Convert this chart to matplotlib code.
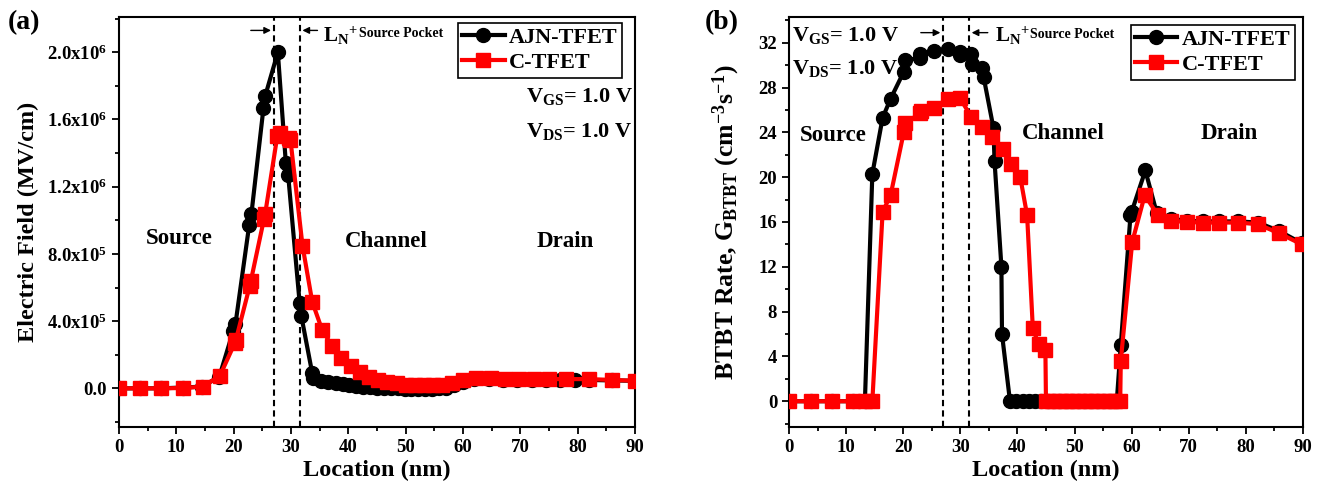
import matplotlib
matplotlib.use("Agg")
import matplotlib.pyplot as plt
from matplotlib.ticker import MultipleLocator, FuncFormatter

plt.rcParams['font.family'] = ['Liberation Serif', 'DejaVu Serif']
plt.rcParams['font.weight'] = 'bold'
plt.rcParams['axes.labelweight'] = 'bold'
plt.rcParams['mathtext.fontset'] = 'custom'
plt.rcParams['mathtext.rm'] = 'Liberation Serif:bold'
plt.rcParams['mathtext.bf'] = 'Liberation Serif:bold'
plt.rcParams['mathtext.it'] = 'Liberation Serif:bold'
plt.rcParams['mathtext.default'] = 'rm'

# ---- (a) electric field, values in units of 1e5 MV/cm ----
ef_ajn_x = [0, 3.7, 7.4, 11.1, 14.5, 17.5, 19.9, 20.3, 22.7, 23.1, 25.2, 25.5, 27.7,
            29.1, 29.5, 31.5, 31.8, 33.7, 33.9, 35.2, 36.5, 37.8, 39.0, 40.2, 41.4,
            42.6, 43.8, 45.0, 46.2, 47.4, 48.6, 49.8, 51.0, 52.2, 53.4, 54.6, 55.8,
            57.0, 58.5, 60.0, 62.0, 64.5, 67.0, 69.5, 72.0, 74.5, 77.0, 79.5, 82.0,
            86.0, 90.0]
ef_ajn_y = [0, 0, 0, 0.05, 0.1, 0.7, 3.4, 3.8, 9.7, 10.4, 16.7, 17.4, 20.0,
            13.4, 12.7, 5.1, 4.3, 0.9, 0.6, 0.45, 0.35, 0.3, 0.25, 0.2, 0.15,
            0.1, 0.07, 0.05, 0.03, 0.02, 0.0, -0.02, -0.03, -0.03, -0.03, -0.02, 0.0,
            0.05, 0.2, 0.4, 0.55, 0.55, 0.5, 0.5, 0.5, 0.5, 0.5, 0.5, 0.5,
            0.47, 0.45]
ef_c_x = [0, 3.7, 7.4, 11.1, 14.6, 17.6, 20.2, 20.4, 22.8, 23.0, 25.3, 25.5, 27.6,
          28.0, 29.6, 29.9, 32.0, 33.7, 35.4, 37.2, 38.8, 40.4, 42.0, 43.6, 45.2,
          46.8, 48.4, 50.0, 51.6, 53.2, 54.8, 56.4, 58.0, 60.0, 62.3, 64.8, 67.3,
          69.8, 72.3, 75.0, 78.0, 82.0, 86.0, 90.0]
ef_c_y = [0, 0, 0, 0.02, 0.1, 0.75, 2.7, 2.9, 6.1, 6.4, 10.1, 10.4, 15.0,
          15.2, 14.9, 14.8, 8.5, 5.15, 3.5, 2.5, 1.8, 1.3, 1.0, 0.7, 0.5,
          0.38, 0.3, 0.22, 0.18, 0.17, 0.18, 0.22, 0.3, 0.5, 0.6, 0.6, 0.55,
          0.55, 0.55, 0.55, 0.55, 0.55, 0.5, 0.45]

# ---- (b) BTBT rate ----
bt_ajn_x = [0, 3.8, 7.6, 11.2, 13.3, 14.6, 16.4, 17.8, 20.1, 20.3, 22.9, 23.0, 25.4,
            27.8, 29.9, 30.0, 31.9, 32.1, 33.8, 34.1, 35.8, 36.0, 37.2, 37.3, 38.7,
            39.8, 40.9, 42.0, 43.1, 44.2, 45.3, 46.4, 47.5, 48.6, 49.7, 50.8, 51.9,
            53.0, 54.1, 55.2, 56.3, 57.4, 58.1, 59.8, 60.0, 62.4, 64.4, 66.9, 69.7,
            72.5, 75.3, 78.7, 82.1, 85.8, 89.8]
bt_ajn_y = [0, 0, 0, 0, 0, 20.3, 25.3, 27.0, 29.4, 30.5, 30.6, 31.0, 31.3,
            31.4, 31.2, 30.9, 31.0, 30.1, 29.7, 28.9, 24.4, 21.4, 12.0, 6.0, 0,
            0, 0, 0, 0, 0, 0, 0, 0, 0, 0, 0, 0,
            0, 0, 0, 0, 0, 5.0, 16.6, 16.9, 20.6, 16.8, 16.3, 16.1,
            16.05, 16.05, 16.05, 15.95, 15.2, 14.1]
bt_c_x = [0, 3.8, 7.6, 11.2, 13.3, 14.6, 16.4, 17.8, 20.1, 20.4, 22.9, 23.2, 25.4,
          27.8, 29.9, 31.9, 33.8, 35.6, 37.4, 38.9, 40.5, 41.7, 42.7, 43.7, 44.9,
          45.0, 46.1, 47.2, 48.3, 49.4, 50.5, 51.6, 52.7, 53.8, 54.9, 56.0, 57.1,
          58.0, 58.1, 60.1, 62.3, 64.6, 66.9, 69.7, 72.5, 75.3, 78.7, 82.1, 85.8,
          89.8]
bt_c_y = [0, 0, 0, 0, 0, 0, 16.9, 18.4, 24.0, 24.8, 25.7, 25.9, 26.2,
          27.0, 27.1, 25.4, 24.5, 23.6, 22.5, 21.2, 20.0, 16.6, 6.5, 5.1, 4.6,
          0, 0, 0, 0, 0, 0, 0, 0, 0, 0, 0, 0,
          0, 3.6, 14.2, 18.4, 16.6, 16.1, 16.0, 15.95, 15.95, 15.95, 15.8, 15.0,
          14.0]

pocket_edges = [27.0, 31.5]


def sci_fmt(v, pos):
    if abs(v) < 1:
        return '0.0'
    e = 6 if abs(v) >= 1e6 else 5
    return r'$%.1f\mathrm{x}10^{%d}$' % (v / 10 ** e, e)


def style_axes(ax):
    for s in ax.spines.values():
        s.set_linewidth(1.5)
    ax.set_xlim(0, 90)
    ax.xaxis.set_major_locator(MultipleLocator(10))
    ax.xaxis.set_minor_locator(MultipleLocator(5))
    ax.tick_params(which='major', direction='out', length=5, width=1.3, labelsize=13.5)
    ax.tick_params(which='minor', direction='out', length=3, width=1.3)
    ax.set_xlabel('Location (nm)', fontsize=17.5, fontweight='bold', labelpad=3)
    for v in pocket_edges:
        ax.axvline(v, color='black', ls=(0, (3, 2)), lw=1.5, zorder=1)


def add_legend(ax, anchor):
    leg = ax.legend(loc='upper right', bbox_to_anchor=anchor, borderaxespad=0, fontsize=16,
                    handlelength=1.9, handletextpad=0.2, borderpad=0.2, labelspacing=0.2,
                    fancybox=False, edgecolor='black', framealpha=1)
    leg.get_frame().set_linewidth(1.2)


fig = plt.figure(figsize=(13.18, 4.99), dpi=100)
ax1 = fig.add_axes([0.0903, 0.1443, 0.3915, 0.8217])
ax2 = fig.add_axes([0.5986, 0.1443, 0.3900, 0.8217])

line_kw = dict(lw=3, markersize=10)

# panel (a)
ax1.plot(ef_ajn_x, [v * 1e5 for v in ef_ajn_y], '-o', color='black', label='AJN-TFET', zorder=3, **line_kw)
ax1.plot(ef_c_x, [v * 1e5 for v in ef_c_y], '-s', color='red', label='C-TFET', zorder=4, **line_kw)
style_axes(ax1)
ax1.set_ylim(-2.3e5, 2.21e6)
ax1.yaxis.set_major_locator(MultipleLocator(4e5))
ax1.yaxis.set_minor_locator(MultipleLocator(2e5))
ax1.yaxis.set_major_formatter(FuncFormatter(sci_fmt))
ax1.set_ylabel('Electric Field (MV/cm)', fontsize=17.5, fontweight='bold', labelpad=6)
add_legend(ax1, (0.975, 0.985))

ax1.text(10.5, 8.9e5, 'Source', fontsize=16.5, ha='center', va='center')
ax1.text(46.6, 8.76e5, 'Channel', fontsize=16.5, ha='center', va='center')
ax1.text(77.8, 8.76e5, 'Drain', fontsize=16.5, ha='center', va='center')
ax1.text(70.9, 1.737e6, r'V$_{\mathrm{GS}}$= 1.0 V', fontsize=16, ha='left', va='center')
ax1.text(70.9, 1.529e6, r'V$_{\mathrm{DS}}$= 1.0 V', fontsize=16, ha='left', va='center')
ax1.annotate('', xy=(27.0, 2.13e6), xytext=(22.5, 2.13e6),
             arrowprops=dict(arrowstyle='-|>', color='black', lw=1, mutation_scale=10))
ax1.annotate('', xy=(31.5, 2.13e6), xytext=(35.1, 2.13e6),
             arrowprops=dict(arrowstyle='-|>', color='black', lw=1, mutation_scale=10))
ax1.text(35.6, 2.1e6, r'L$_{\mathrm{N}}$$^{+}$', fontsize=15, ha='left', va='center')
ax1.text(41.8, 2.11e6, 'Source Pocket', fontsize=10, ha='left', va='center')

# panel (b)
ax2.plot(bt_ajn_x, bt_ajn_y, '-o', color='black', label='AJN-TFET', zorder=3, **line_kw)
ax2.plot(bt_c_x, bt_c_y, '-s', color='red', label='C-TFET', zorder=4, **line_kw)
style_axes(ax2)
ax2.set_ylim(-2.3, 34.3)
ax2.yaxis.set_major_locator(MultipleLocator(4))
ax2.yaxis.set_minor_locator(MultipleLocator(2))
ax2.set_ylabel(r'BTBT Rate, G$_{\mathrm{BTBT}}$ (cm$^{\mathrm{-3}}$s$^{\mathrm{-1}}$)',
               fontsize=18.5, fontweight='bold', labelpad=12)
add_legend(ax2, (0.984, 0.98))

ax2.text(7.8, 23.7, 'Source', fontsize=16.5, ha='center', va='center')
ax2.text(48.1, 23.9, 'Channel', fontsize=16.5, ha='center', va='center')
ax2.text(77.0, 23.9, 'Drain', fontsize=16.5, ha='center', va='center')
ax2.text(0.6, 32.65, r'V$_{\mathrm{GS}}$= 1.0 V', fontsize=16, ha='left', va='center')
ax2.text(0.6, 29.7, r'V$_{\mathrm{DS}}$= 1.0 V', fontsize=16, ha='left', va='center')
ax2.annotate('', xy=(27.0, 32.9), xytext=(22.6, 32.9),
             arrowprops=dict(arrowstyle='-|>', color='black', lw=1, mutation_scale=10))
ax2.annotate('', xy=(31.5, 32.9), xytext=(35.3, 32.9),
             arrowprops=dict(arrowstyle='-|>', color='black', lw=1, mutation_scale=10))
ax2.text(36.0, 32.6, r'L$_{\mathrm{N}}$$^{+}$', fontsize=15, ha='left', va='center')
ax2.text(42.2, 32.7, 'Source Pocket', fontsize=10, ha='left', va='center')

fig.text(0.006, 0.955, '(a)', fontsize=20, fontweight='bold', ha='left', va='center')
fig.text(0.535, 0.955, '(b)', fontsize=20, fontweight='bold', ha='left', va='center')

fig.savefig('out.png', dpi=100)
